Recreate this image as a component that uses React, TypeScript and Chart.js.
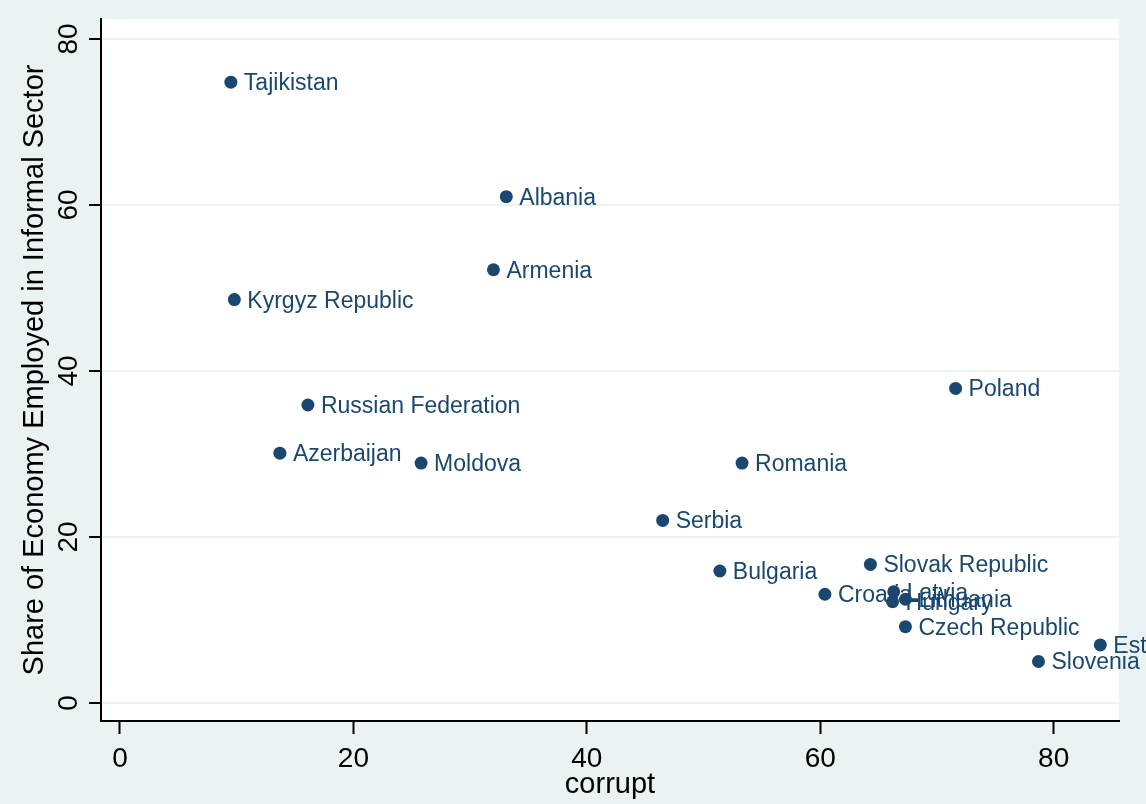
import React, { useEffect, useRef } from "react";
import { Chart, registerables } from "chart.js";

Chart.register(...registerables);

// Corruption score vs. informal-sector employment, transition economies
const countries = [
  "Tajikistan",
  "Albania",
  "Armenia",
  "Kyrgyz Republic",
  "Russian Federation",
  "Azerbaijan",
  "Moldova",
  "Romania",
  "Poland",
  "Serbia",
  "Bulgaria",
  "Slovak Republic",
  "Croatia",
  "Latvia",
  "Lithuania",
  "Hungary",
  "Czech Republic",
  "Estonia",
  "Slovenia",
];
const corrupt = [9.5, 33.1, 32.0, 9.8, 16.1, 13.7, 25.8, 53.3, 71.6, 46.5, 51.4, 64.3, 60.4, 66.3, 67.3, 66.2, 67.3, 84.0, 78.7];
const informal = [74.8, 61.0, 52.2, 48.6, 35.9, 30.1, 28.9, 28.9, 37.9, 22.0, 15.9, 16.7, 13.1, 13.4, 12.5, 12.2, 9.2, 7.0, 5.0];

const xTicks = [0, 20, 40, 60, 80];
const yTicks = [0, 20, 40, 60, 80];
const xTitle = "corrupt";
const yTitle = "Share of Economy Employed in Informal Sector";

const FONT = "'Liberation Sans', Arial, Helvetica, sans-serif";
const NAVY = "#1A476F";
const BG = "#EAF2F3";

const decor = {
  id: "decor",
  beforeDraw(chart: any) {
    const { ctx, chartArea: a, width, height } = chart;
    ctx.save();
    ctx.fillStyle = BG;
    ctx.fillRect(0, 0, width, height);
    ctx.fillStyle = "#ffffff";
    ctx.fillRect(a.left, a.top, a.right - a.left, a.bottom - a.top);
    ctx.restore();
  },
  afterDatasetsDraw(chart: any) {
    const { ctx } = chart;
    const meta = chart.getDatasetMeta(0);
    ctx.save();
    ctx.fillStyle = NAVY;
    ctx.font = `23px ${FONT}`;
    ctx.textAlign = "left";
    ctx.textBaseline = "alphabetic";
    meta.data.forEach((pt: any, i: number) => {
      ctx.fillText(countries[i], pt.x + 13, pt.y + 8);
    });
    ctx.restore();
  },
  afterDraw(chart: any) {
    const { ctx, chartArea: a } = chart;
    const xs = chart.scales.x;
    const ys = chart.scales.y;
    ctx.save();
    ctx.fillStyle = "#000000";
    ctx.font = `28px ${FONT}`;
    ctx.textAlign = "center";
    ctx.textBaseline = "alphabetic";
    xTicks.forEach((v) => {
      ctx.fillText(String(v), xs.getPixelForValue(v), a.bottom + 46);
    });
    yTicks.forEach((v) => {
      ctx.save();
      ctx.translate(a.left - 24, ys.getPixelForValue(v));
      ctx.rotate(-Math.PI / 2);
      ctx.fillText(String(v), 0, 0);
      ctx.restore();
    });
    ctx.font = `29px ${FONT}`;
    ctx.fillText(xTitle, (a.left + a.right) / 2, a.bottom + 72);
    ctx.save();
    ctx.translate(a.left - 58, (a.top + a.bottom) / 2);
    ctx.rotate(-Math.PI / 2);
    ctx.fillText(yTitle, 0, 0);
    ctx.restore();
    ctx.restore();
  },
};

export default function App() {
  const canvasRef = useRef<HTMLCanvasElement | null>(null);

  useEffect(() => {
    document.body.style.margin = "0";
    document.body.style.overflow = "hidden";
    const canvas = canvasRef.current;
    if (!canvas) return;

    const chart = new Chart(canvas, {
      type: "scatter",
      data: {
        datasets: [
          {
            data: corrupt.map((x, i) => ({ x, y: informal[i] })),
            backgroundColor: NAVY,
            borderWidth: 0,
            pointRadius: 6.5,
            pointHoverRadius: 6.5,
            clip: false as any,
          },
        ],
      },
      options: {
        responsive: false,
        animation: false,
        devicePixelRatio: 1,
        layout: { padding: { top: 19, right: 27, left: 0, bottom: 0 } },
        plugins: {
          legend: { display: false },
          tooltip: { enabled: false },
        },
        events: [],
        scales: {
          x: {
            type: "linear",
            position: "bottom",
            min: -1.628,
            max: 85.6,
            afterBuildTicks: (s: any) => {
              s.ticks = xTicks.map((v) => ({ value: v }));
            },
            afterFit: (s: any) => {
              s.height = 83;
            },
            ticks: { display: false },
            grid: {
              drawOnChartArea: false,
              drawTicks: true,
              tickLength: 13,
              tickWidth: 2,
              tickColor: "#000000",
            },
            border: { display: true, color: "#000000", width: 2 },
          },
          y: {
            type: "linear",
            position: "left",
            min: -2.17,
            max: 82.41,
            afterBuildTicks: (s: any) => {
              s.ticks = yTicks.map((v) => ({ value: v }));
            },
            afterFit: (s: any) => {
              s.width = 101;
            },
            ticks: { display: false },
            grid: {
              drawOnChartArea: true,
              color: BG,
              lineWidth: 2,
              drawTicks: true,
              tickLength: 12,
              tickWidth: 2,
              tickColor: "#000000",
            },
            border: { display: true, color: "#000000", width: 2 },
          },
        },
      },
      plugins: [decor],
    });

    return () => chart.destroy();
  }, []);

  return (
    <div style={{ width: 1146, height: 804 }}>
      <canvas ref={canvasRef} width={1146} height={804} style={{ display: "block", width: 1146, height: 804 }} />
    </div>
  );
}
